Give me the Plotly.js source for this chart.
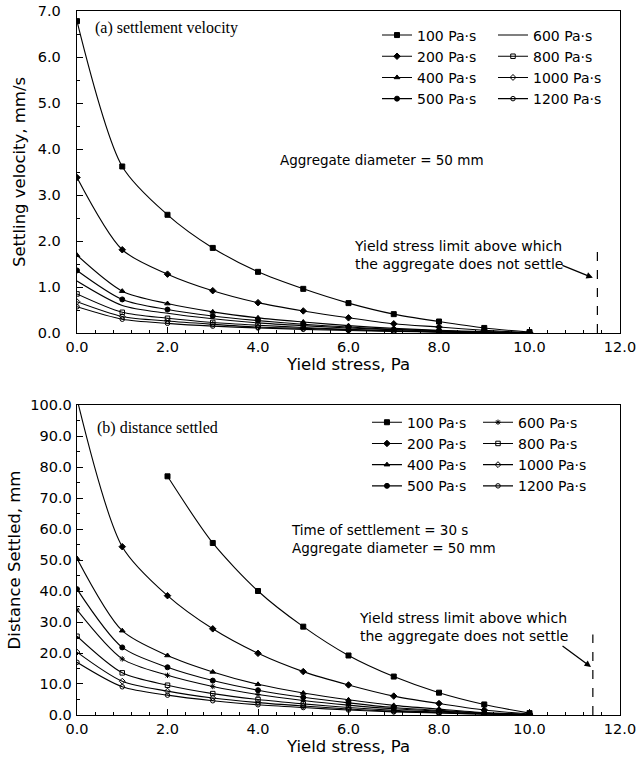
<!DOCTYPE html>
<html>
<head>
<meta charset="utf-8">
<script src="https://cdn.plot.ly/plotly-3.0.1.min.js"></script>
<style>html,body{margin:0;padding:0;background:#fff}#chart{width:637px;height:759px}</style>
</head>
<body>
<div id="chart"></div>
<script>
// ---- data ----
const yieldStress = [0, 1, 2, 3, 4, 5, 6, 7, 8, 9, 10];
const seriesNames = ["100 Pa·s", "200 Pa·s", "400 Pa·s", "500 Pa·s", "600 Pa·s", "800 Pa·s", "1000 Pa·s", "1200 Pa·s"];

// (a) settling velocity, mm/s
const vel100  = [6.78, 3.62, 2.57, 1.85, 1.33, 0.96, 0.65, 0.41, 0.25, 0.11, 0.02];
const vel200  = [3.38, 1.81, 1.28, 0.92, 0.66, 0.48, 0.33, 0.20, 0.13, 0.06, 0.01];
const vel400  = [1.69, 0.91, 0.64, 0.46, 0.33, 0.24, 0.16, 0.10, 0.06, 0.03, 0.005];
const vel500  = [1.36, 0.73, 0.51, 0.37, 0.27, 0.19, 0.13, 0.08, 0.05, 0.02, 0.004];
const vel600  = [1.13, 0.60, 0.43, 0.31, 0.22, 0.16, 0.11, 0.07, 0.04, 0.02, 0.003];
const vel800  = [0.85, 0.45, 0.32, 0.23, 0.17, 0.12, 0.08, 0.05, 0.03, 0.014, 0.003];
const vel1000 = [0.68, 0.36, 0.26, 0.19, 0.13, 0.10, 0.07, 0.04, 0.025, 0.011, 0.002];
const vel1200 = [0.57, 0.30, 0.21, 0.15, 0.11, 0.08, 0.055, 0.035, 0.02, 0.01, 0.002];

// (b) distance settled, mm
const dist100  = [null, null, 77.0, 55.5, 40.0, 28.5, 19.2, 12.4, 7.2, 3.4, 0.6];
const dist200  = [102.0, 54.3, 38.5, 27.8, 19.9, 14.0, 9.7, 6.1, 3.7, 1.6, 0.3];
const dist400  = [50.5, 27.2, 19.2, 13.9, 9.9, 7.1, 4.9, 3.1, 1.9, 0.8, 0.15];
const dist500  = [40.6, 21.8, 15.4, 11.1, 8.0, 5.7, 3.9, 2.4, 1.5, 0.65, 0.12];
const dist600  = [33.9, 18.1, 12.8, 9.2, 6.6, 4.7, 3.2, 2.0, 1.25, 0.55, 0.1];
const dist800  = [25.4, 13.6, 9.6, 6.9, 5.0, 3.6, 2.4, 1.5, 0.95, 0.4, 0.08];
const dist1000 = [20.3, 10.9, 7.7, 5.5, 4.0, 2.9, 1.95, 1.2, 0.75, 0.33, 0.06];
const dist1200 = [17.0, 9.1, 6.4, 4.6, 3.3, 2.4, 1.6, 1.0, 0.63, 0.27, 0.05];

const yieldLimitA = [11.5, 1.85];   // x position, top of dashed marker line
const yieldLimitB = [11.4, 26.0];

// ---- styling ----
const symbolsA = ["square", "diamond", "triangle-up", "circle", null, "square-open", "diamond-open", "circle-open"];
const symbolsB = ["square", "diamond", "triangle-up", "circle", "asterisk-open", "square-open", "diamond-open", "circle-open"];
const velData = [vel100, vel200, vel400, vel500, vel600, vel800, vel1000, vel1200];
const distData = [dist100, dist200, dist400, dist500, dist600, dist800, dist1000, dist1200];

const SANS = "DejaVu Sans, Liberation Sans, Arial, sans-serif";
const SERIF = "Liberation Serif, Times New Roman, serif";

const traces = [];
function mk(ys, i, sym, xa, ya, leg) {
  const t = {
    x: yieldStress, y: ys, name: seriesNames[i], xaxis: xa, yaxis: ya,
    type: "scatter",
    mode: sym ? "lines+markers" : "lines",
    line: {color: "#000", width: 1.1, shape: "spline", smoothing: 0.8},
    legend: leg, showlegend: true, cliponaxis: true
  };
  if (sym) t.marker = {symbol: sym, size: sym.indexOf("open") >= 0 ? 4.5 : 5, color: "#000", line: {color: "#000", width: 1}};
  return t;
}
velData.forEach((ys, i) => traces.push(mk(ys, i, symbolsA[i], "x", "y", i < 4 ? "legend" : "legend2")));
distData.forEach((ys, i) => traces.push(mk(ys, i, symbolsB[i], "x2", "y2", i < 4 ? "legend3" : "legend4")));

const axisCommon = {
  showline: true, mirror: true, linecolor: "#000", linewidth: 1.3,
  ticks: "inside", ticklen: 6, tickwidth: 1, tickcolor: "#000",
  showgrid: false, zeroline: false, tickformat: ".1f", ticklabeloverflow: "allow",
  tickfont: {family: SANS, size: 14.5, color: "#000"}
};
function ax(extra) { return Object.assign({}, JSON.parse(JSON.stringify(axisCommon)), extra); }
const titleFont = {family: SANS, size: 16.5, color: "#000"};

const legendCommon = {
  bgcolor: "rgba(0,0,0,0)", borderwidth: 0, font: {family: SANS, size: 14, color: "#000"},
  xanchor: "left", yanchor: "top", tracegroupgap: 0, itemclick: false
};
function lg(x, y) { return Object.assign({}, legendCommon, {x: x, y: y}); }

const layout = {
  width: 637, height: 759,
  margin: {l: 77, r: 17, t: 11, b: 44},
  paper_bgcolor: "#fff", plot_bgcolor: "#fff",
  showlegend: true,
  xaxis: ax({domain: [0, 1], range: [0, 12], dtick: 2, anchor: "y",
    minor: {dtick: 0.4, ticks: "inside", ticklen: 3, tickcolor: "#000"},
    title: {text: "Yield stress, Pa", font: titleFont, standoff: 4}}),
  yaxis: ax({domain: [0.5426, 1], range: [0, 7], dtick: 1, anchor: "x",
    minor: {dtick: 0.5, ticks: "inside", ticklen: 3, tickcolor: "#000"},
    ticklabelstandoff: 12,
    title: {text: "Settling velocity, mm/s", font: titleFont, standoff: 8}}),
  xaxis2: ax({domain: [0, 1], range: [0, 12], dtick: 2, anchor: "y2",
    minor: {dtick: 0.4, ticks: "inside", ticklen: 3, tickcolor: "#000"},
    title: {text: "Yield stress, Pa", font: titleFont, standoff: 4}}),
  yaxis2: ax({domain: [0, 0.4403], range: [0, 100], dtick: 10, anchor: "x2",
    minor: {dtick: 5, ticks: "inside", ticklen: 3, tickcolor: "#000"},
    ticklabelstandoff: 1,
    title: {text: "Distance Settled, mm", font: titleFont, standoff: 5}}),
  legend: lg(0.5525, 0.988),
  legend2: lg(0.7661, 0.988),
  legend3: lg(0.534, 0.438),
  legend4: lg(0.7385, 0.438),
  shapes: [
    {type: "line", xref: "x", yref: "y", x0: yieldLimitA[0], x1: yieldLimitA[0], y0: 0, y1: yieldLimitA[1],
     line: {color: "#000", width: 1.2, dash: "dash"}},
    {type: "line", xref: "x2", yref: "y2", x0: yieldLimitB[0], x1: yieldLimitB[0], y0: 0, y1: yieldLimitB[1],
     line: {color: "#000", width: 1.2, dash: "dash"}}
  ],
  annotations: [
    {xref: "x", yref: "y", x: 0.35, y: 6.63, xanchor: "left", yanchor: "middle", showarrow: false,
     text: "(a) settlement velocity", font: {family: SERIF, size: 16, color: "#000"}},
    {xref: "x", yref: "y", x: 4.45, y: 3.76, xanchor: "left", yanchor: "middle", showarrow: false,
     text: "Aggregate diameter = 50 mm", font: {family: SANS, size: 13.5, color: "#000"}},
    {xref: "x", yref: "y", x: 6.08, y: 1.70, xanchor: "left", yanchor: "middle", align: "left", showarrow: false,
     text: "Yield stress limit above which<br>the aggregate does not settle", font: {family: SANS, size: 14, color: "#000"}},
    {xref: "x", yref: "y", x: 11.40, y: 1.20, text: "", showarrow: true, arrowhead: 2, arrowsize: 1, arrowwidth: 1.3,
     arrowcolor: "#000", ax: -32, ay: -13},
    {xref: "x2", yref: "y2", x: 0.40, y: 92.6, xanchor: "left", yanchor: "middle", showarrow: false,
     text: "(b) distance settled", font: {family: SERIF, size: 16, color: "#000"}},
    {xref: "x2", yref: "y2", x: 4.68, y: 56.8, xanchor: "left", yanchor: "middle", align: "left", showarrow: false,
     text: "Time of settlement = 30 s<br>Aggregate diameter = 50 mm", font: {family: SANS, size: 13.5, color: "#000"}},
    {xref: "x2", yref: "y2", x: 6.18, y: 28.4, xanchor: "left", yanchor: "middle", align: "left", showarrow: false,
     text: "Yield stress limit above which<br>the aggregate does not settle", font: {family: SANS, size: 14, color: "#000"}},
    {xref: "x2", yref: "y2", x: 11.36, y: 15.5, text: "", showarrow: true, arrowhead: 2, arrowsize: 1, arrowwidth: 1.3,
     arrowcolor: "#000", ax: -30, ay: -22}
  ]
};

Plotly.newPlot("chart", traces, layout, {displayModeBar: false, staticPlot: true});
</script>
</body>
</html>
